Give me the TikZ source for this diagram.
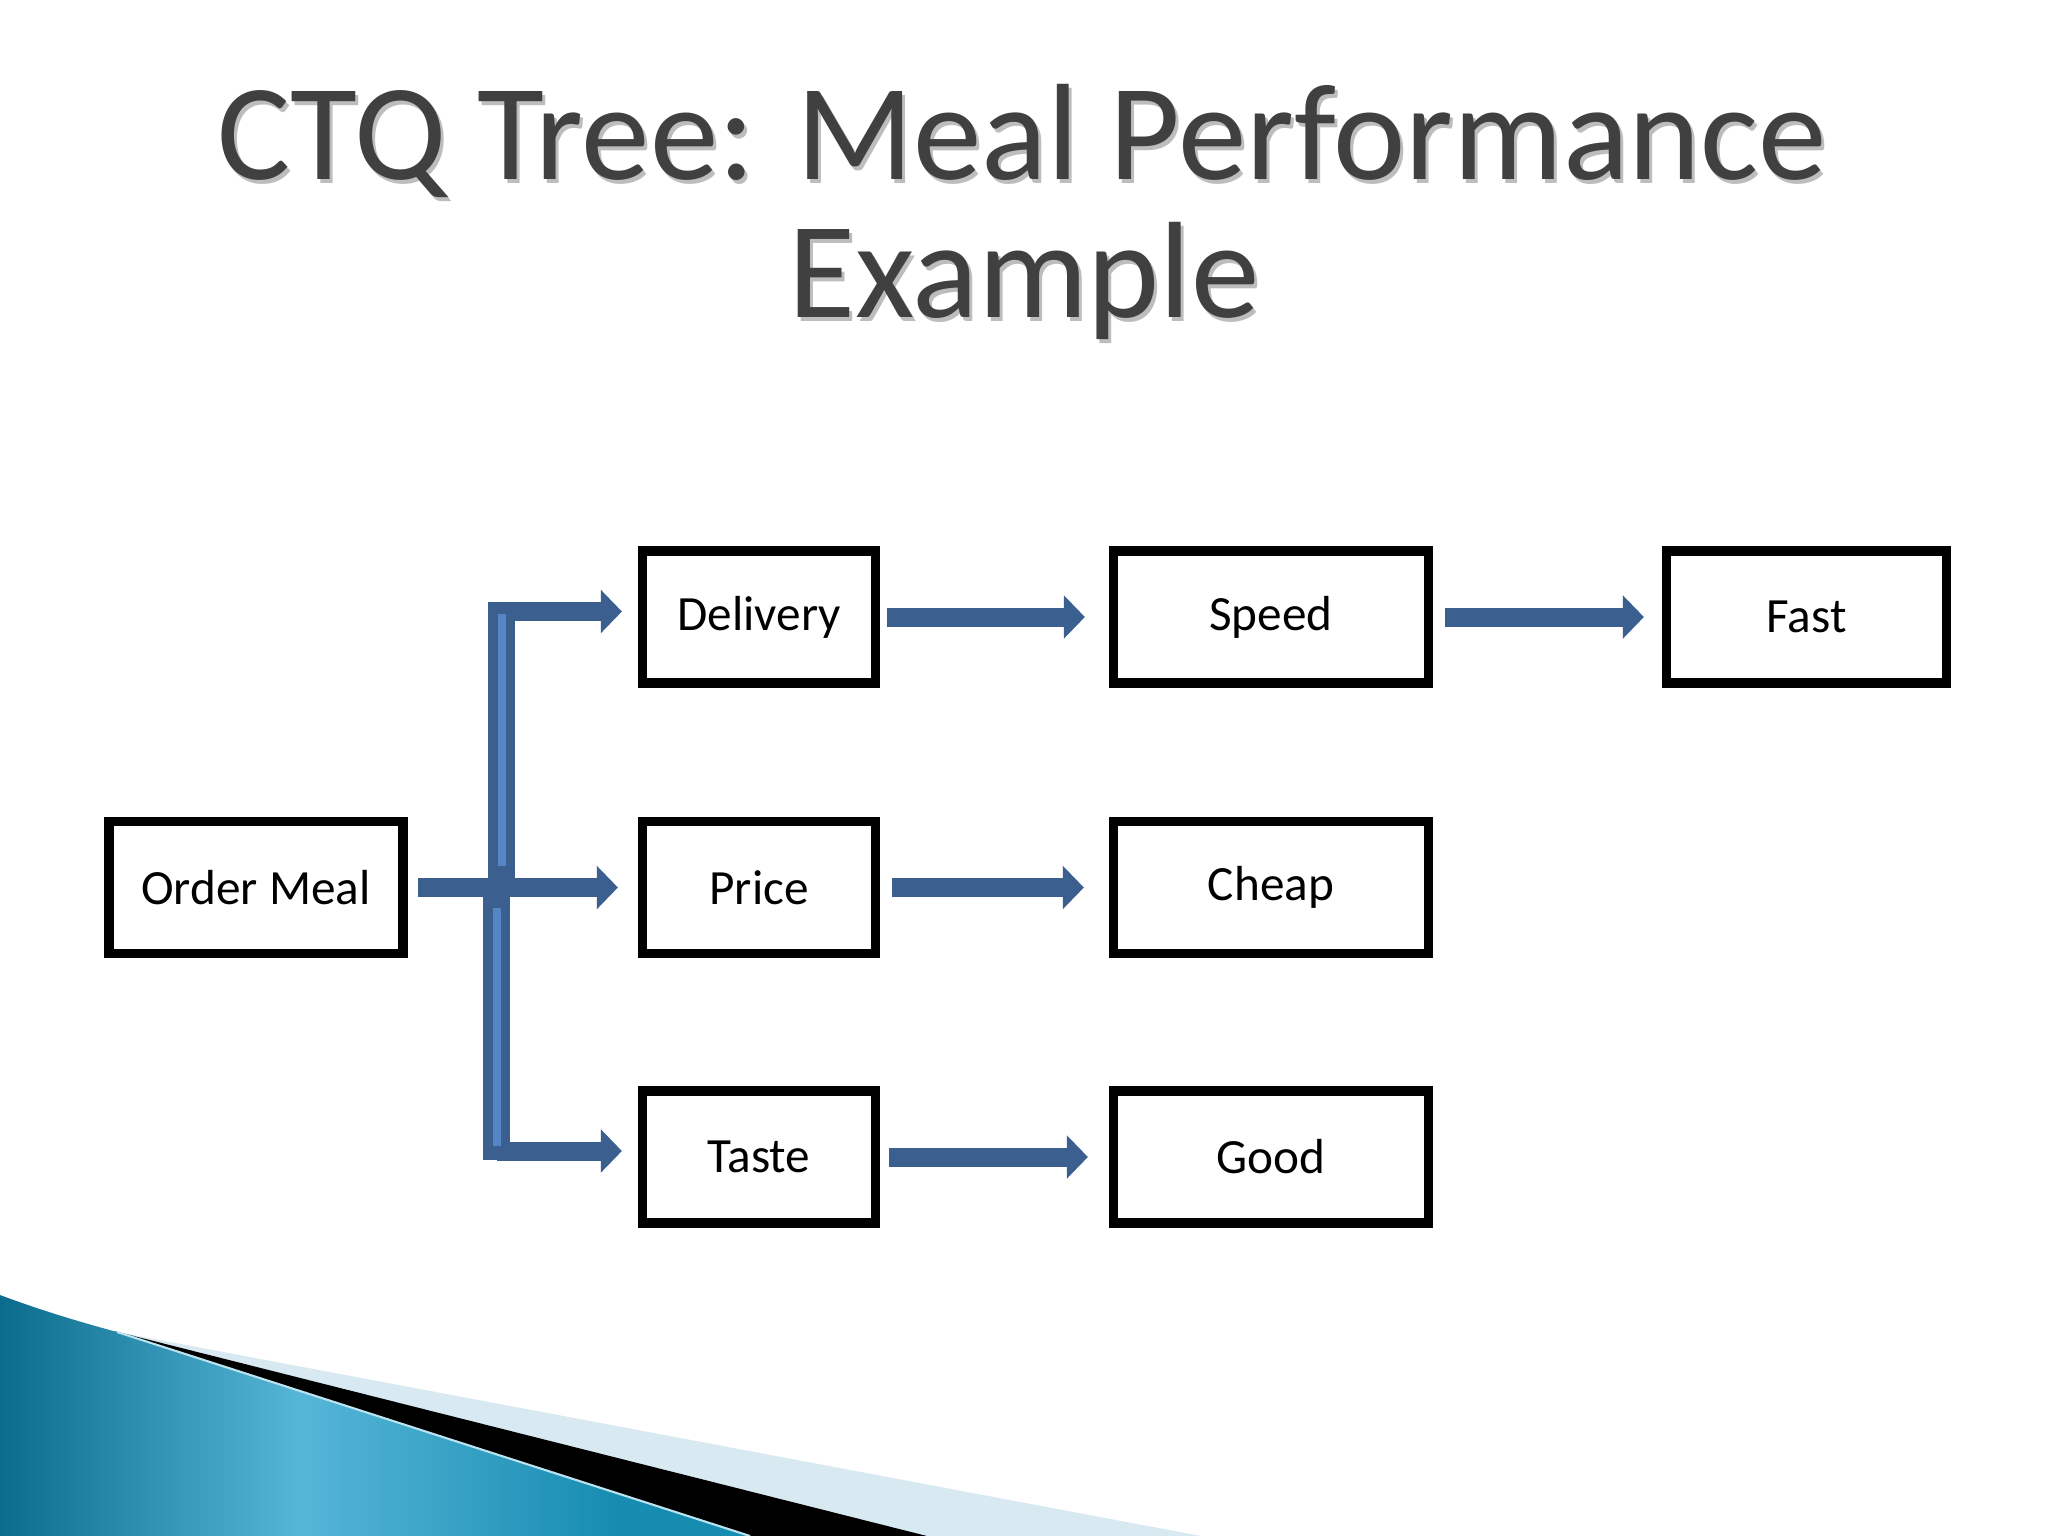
\documentclass[tikz,border=0pt]{standalone}
\usepackage{fontspec}
\setmainfont{Carlito}
\usetikzlibrary{arrows.meta}
\definecolor{arrowblue}{HTML}{3B5F8E}
\definecolor{lightbar}{HTML}{5585C4}
\definecolor{titlegray}{HTML}{404040}
\definecolor{titleshadow}{HTML}{BDBDBD}
\definecolor{lightband}{HTML}{D8E9F2}
\definecolor{tealdark}{HTML}{0B6D8D}
\definecolor{teallight}{HTML}{56B6D8}
\definecolor{tealmid}{HTML}{168CB1}
\begin{document}
\begin{tikzpicture}[x=0.01cm,y=-0.01cm,
  box/.style={draw=black, line width=0.095cm, inner sep=0pt, minimum height=1.315cm, fill=white, font=\fontsize{14}{17}\selectfont},
  flow/.style={draw=arrowblue, line width=0.19cm, -{Triangle[length=0.21cm,width=0.42cm]}},
  barline/.style={draw=arrowblue, line width=0.27cm},
  barlight/.style={draw=lightbar, line width=0.08cm},
  titletext/.style={font=\fontsize{39}{39}\selectfont, anchor=base}]
\useasboundingbox (0,0) rectangle (2048,1536);
\fill[white] (0,0) rectangle (2048,1536);

% title
\node[titletext, text=titleshadow] at (1025,183) {CTQ Tree: Meal Performance};
\node[titletext, text=titleshadow] at (1027,321) {Example};
\node[titletext, text=titlegray] (t1) at (1022,179) {CTQ Tree: Meal Performance};
\node[titletext, text=titlegray] (t2) at (1024,317) {Example};

% boxes
\node[box, minimum width=2.935cm] (om) at (256,887.5) {Order Meal};
\node[box, minimum width=2.325cm] (del) at (759,617) {Delivery};
\node[box, minimum width=2.325cm] (pri) at (759,887.5) {Price};
\node[box, minimum width=2.325cm] (tas) at (759,1157) {Taste};
\node[box, minimum width=3.145cm] (spd) at (1271,617) {Speed};
\node[box, minimum width=3.145cm] (chp) at (1271,887.5) {Cheap};
\node[box, minimum width=3.145cm] (gd) at (1271,1157) {Good};
\node[box, minimum width=2.795cm] (fst) at (1806.5,617) {Fast};

% branch bar
\coordinate (btop) at (501.5,602);
\coordinate (jt) at (501.5,611.5);
\coordinate (jm) at (501.5,887.5);
\coordinate (jmb) at (496.7,887.5);
\coordinate (jb) at (496.7,1151);
\coordinate (bbot) at (496.7,1160);
\draw[barline] (jm) -- (btop);
\draw[barline] (jmb) -- (bbot);

% arrows
\draw[flow, shorten >=0.16cm] (jt) -- (jt -| del.west);
\draw[flow, shorten >=0.16cm] (jb) -- (jb -| tas.west);
\draw[flow, shorten <=0.1cm, shorten >=0.2cm] (om) -- (pri);
\draw[barlight] (501.5,614) -- (501.5,866);
\draw[barlight] (496.7,908) -- (496.7,1146);
\draw[flow, shorten <=0.07cm, shorten >=0.24cm] (del) -- (spd);
\draw[flow, shorten <=0.12cm, shorten >=0.18cm] (spd) -- (fst);
\draw[flow, shorten <=0.12cm, shorten >=0.25cm] (pri) -- (chp);
\draw[flow, shorten <=0.09cm, shorten >=0.21cm] (tas) -- (gd);

% bottom-left decoration
\fill[lightband] (117,1332) -- (1201,1536) -- (800,1536) -- cycle;
\fill[black] (114,1331) -- (927,1536) -- (750,1536) -- cycle;
\begin{scope}
  \clip (0,1295) .. controls (40,1310) and (80,1322) .. (117,1332) -- (750,1536) -- (0,1536) -- cycle;
  \shade[left color=tealdark, right color=teallight] (0,1290) rectangle (300,1540);
  \shade[left color=teallight, right color=tealmid] (299,1290) rectangle (620,1540);
  \fill[tealmid] (619,1290) rectangle (760,1540);
\end{scope}
\draw[teallight!40!white, line width=0.6pt] (117,1332) -- (750,1536);
\end{tikzpicture}
\end{document}
